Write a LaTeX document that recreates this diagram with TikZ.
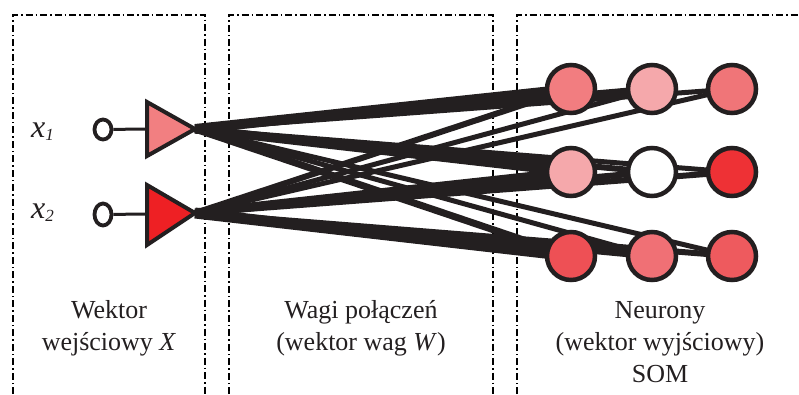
\documentclass[tikz,border=0pt]{standalone}
\usepackage{fontspec}
\setmainfont{Liberation Serif}
\usetikzlibrary{shapes.geometric}
\begin{document}
\begin{tikzpicture}[x=1pt,y=-1pt,
  boxline/.style={line width=2pt,dash pattern=on 7pt off 3pt on 1.5pt off 3pt},
  neuron/.style={circle,draw=ink,line width=4.5pt,minimum size=48pt,inner sep=0pt},
  wire/.style={draw=ink,line cap=butt},
  inputc/.style={ellipse,draw=ink,line width=3.8pt,minimum width=17pt,minimum height=20pt,inner sep=0pt,fill=white},
  lbl/.style={font=\fontsize{26}{32}\selectfont,align=center,text=txt}
]
\definecolor{ink}{HTML}{231F20}
\definecolor{txt}{HTML}{231F20}
\definecolor{c11}{HTML}{F27D80}
\definecolor{c12}{HTML}{F5A8AB}
\definecolor{c13}{HTML}{F07578}
\definecolor{c21}{HTML}{F5A8AB}
\definecolor{c22}{HTML}{FFFFFF}
\definecolor{c23}{HTML}{EE3135}
\definecolor{c31}{HTML}{EE5055}
\definecolor{c32}{HTML}{F07075}
\definecolor{c33}{HTML}{EE5A5E}
\definecolor{t1}{HTML}{F27F81}
\definecolor{t2}{HTML}{EE2024}
\useasboundingbox (0,0) rectangle (799,394);

% boxes
\draw[boxline] (13,394) -- (13,15) -- (205,15) -- (205,394);
\draw[boxline] (229,394) -- (229,15) -- (493,15) -- (493,394);
\draw[boxline] (517,394) -- (517,15) -- (805,15);

% coordinates
\coordinate (tip1) at (195,129);
\coordinate (tip2) at (195,213);

% neuron positions
\coordinate (p11) at (571,89);
\coordinate (p12) at (652,89);
\coordinate (p13) at (732,89);
\coordinate (p21) at (571,172);
\coordinate (p22) at (652,172);
\coordinate (p23) at (732,172);
\coordinate (p31) at (571,256);
\coordinate (p32) at (652,256);
\coordinate (p33) at (732,256);

% weights
\draw[wire,line width=10pt] (tip1) -- (p11);
\draw[wire,line width=7pt] (tip1) -- (p12);
\draw[wire,line width=5pt] (tip1) -- (p13);
\draw[wire,line width=9pt] (tip1) -- (p21);
\draw[wire,line width=6pt] (tip1) -- (p22);
\draw[wire,line width=5pt] (tip1) -- (p23);
\draw[wire,line width=7pt] (tip1) -- (p31);
\draw[wire,line width=5pt] (tip1) -- (p32);
\draw[wire,line width=5pt] (tip1) -- (p33);
\draw[wire,line width=6pt] (tip2) -- (p11);
\draw[wire,line width=5pt] (tip2) -- (p12);
\draw[wire,line width=5pt] (tip2) -- (p13);
\draw[wire,line width=9pt] (tip2) -- (p21);
\draw[wire,line width=6pt] (tip2) -- (p22);
\draw[wire,line width=6pt] (tip2) -- (p23);
\draw[wire,line width=11pt] (tip2) -- (p31);
\draw[wire,line width=7pt] (tip2) -- (p32);
\draw[wire,line width=6pt] (tip2) -- (p33);

% neurons
\node[neuron,fill=c11] (n11) at (p11) {};
\node[neuron,fill=c12] (n12) at (p12) {};
\node[neuron,fill=c13] (n13) at (p13) {};
\node[neuron,fill=c21] (n21) at (p21) {};
\node[neuron,fill=c22] (n22) at (p22) {};
\node[neuron,fill=c23] (n23) at (p23) {};
\node[neuron,fill=c31] (n31) at (p31) {};
\node[neuron,fill=c32] (n32) at (p32) {};
\node[neuron,fill=c33] (n33) at (p33) {};

% inputs
\node[inputc] (i1) at (103,129.5) {};
\node[inputc,minimum height=22pt] (i2) at (103,214.5) {};
\coordinate (tl1) at (147,129);
\coordinate (tl2) at (147,214);
\draw[wire,line width=3pt] (i1) -- (tl1);
\draw[wire,line width=3pt] (i2) -- (tl2);
\filldraw[fill=t1,draw=ink,line width=4pt,line join=miter] (147,102) -- (tip1) -- (147,156) -- cycle;
\filldraw[fill=t2,draw=ink,line width=4pt,line join=miter] (147,185) -- (tip2) -- (147,245) -- cycle;

% input labels
\node[anchor=base west,inner sep=0pt,text=txt] (x1) at (31,137) {\fontsize{32}{32}\selectfont\textit{x}\raisebox{-3pt}{\fontsize{17}{17}\selectfont\textit{1}}};
\node[anchor=base west,inner sep=0pt,text=txt] (x2) at (31,218) {\fontsize{32}{32}\selectfont\textit{x}\raisebox{-3pt}{\fontsize{17}{17}\selectfont\textit{2}}};

% captions (base anchor = last line)
\node[lbl,anchor=base] (l1) at (109,350) {Wektor\\wejściowy \textit{X}};
\node[lbl,anchor=base] (l2) at (361,350) {Wagi połączeń\\(wektor wag \textit{W})};
\node[lbl,anchor=base] (l3) at (660,382) {Neurony\\(wektor wyjściowy)\\SOM};
\end{tikzpicture}
\end{document}
